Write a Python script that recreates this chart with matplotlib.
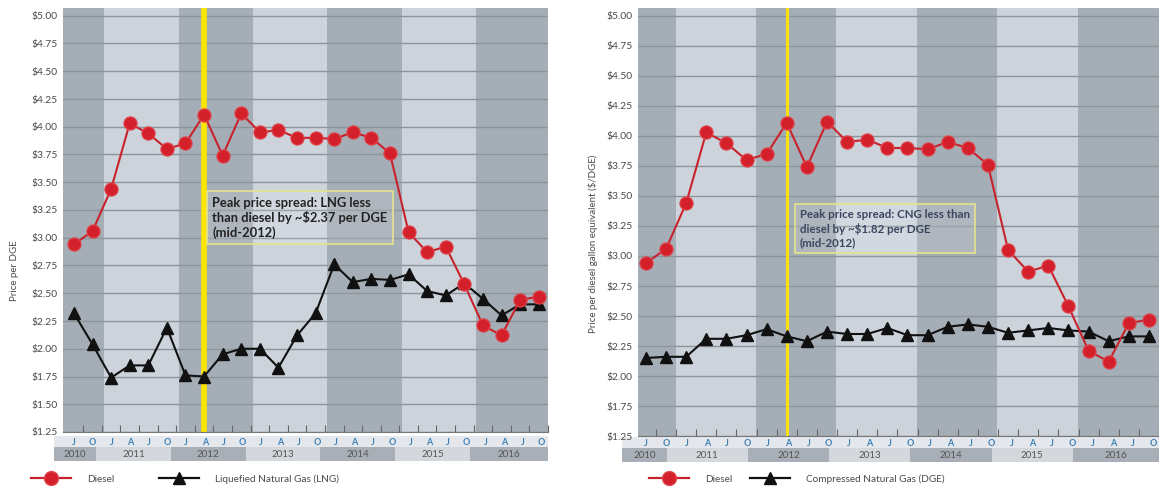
"""Diesel vs LNG / CNG retail prices per DGE, 2010-2016 (two panels)."""
import numpy as np
import matplotlib; matplotlib.use("Agg")
import matplotlib.pyplot as plt
from matplotlib.lines import Line2D

quarters = ["J", "O", "J", "A", "J", "O", "J", "A", "J", "O", "J", "A", "J",
            "O", "J", "A", "J", "O", "J", "A", "J", "O", "J", "A", "J", "O"]
years = ["2010", "2011", "2012", "2013", "2014", "2015", "2016"]
diesel = [2.94, 3.06, 3.44, 4.03, 3.94, 3.80, 3.85, 4.11, 3.74, 4.12, 3.95, 3.97, 3.90,
          3.90, 3.89, 3.95, 3.90, 3.76, 3.05, 2.87, 2.92, 2.58, 2.21, 2.12, 2.44, 2.47]
lng = [2.32, 2.04, 1.74, 1.85, 1.85, 2.19, 1.76, 1.75, 1.95, 2.00, 2.00, 1.83, 2.12,
       2.32, 2.76, 2.60, 2.63, 2.62, 2.67, 2.52, 2.48, 2.59, 2.45, 2.30, 2.40, 2.40]
cng = [2.15, 2.16, 2.16, 2.31, 2.31, 2.34, 2.39, 2.33, 2.29, 2.37, 2.35, 2.35, 2.40,
       2.34, 2.34, 2.41, 2.43, 2.41, 2.36, 2.38, 2.40, 2.38, 2.37, 2.29, 2.33, 2.33]
left_ticks = [5.00, 4.75, 4.50, 4.25, 4.00, 3.75, 3.50, 3.25, 3.00, 2.75, 2.50, 2.25, 2.00, 1.75, 1.50, 1.25]
left_labels = ["$5.00", "$4.75", "$4.50", "$4.25", "$4.00", "$3.75", "$3.50", "$3.25",
               "$3.00", "$2.75", "$2.50", "$2.25", "$2.00", "$1.75", "$1.50", "$1.25"]
# the original right panel skips $1.50 and labels that gridline $1.25
right_ticks = [5.00, 4.75, 4.50, 4.25, 4.00, 3.75, 3.50, 3.25, 3.00, 2.75, 2.50, 2.25, 2.00, 1.75, 1.50]
right_labels = ["$5.00", "$4.75", "$4.50", "$4.25", "$4.00", "$3.75", "$3.50", "$3.25",
                "$3.00", "$2.75", "$2.50", "$2.25", "$2.00", "$1.75", "$1.25"]
peak_idx = 7  # April 2012

W, H = 1159, 486
DARK, LIGHT = "#a5adb6", "#ccd3db"
RED, TXT = "#d4202b", "#4a4a4a"
plt.rcParams["font.family"] = ["Lato", "DejaVu Sans"]

fig = plt.figure(figsize=(W / 100, H / 100), dpi=100)


def rect(l, t, r, b):
    return [l / W, 1 - b / H, (r - l) / W, (b - t) / H]


def panel(g, ng, ng_name, ticks, labels, ylabel, note, note_xy, note_kw, yl_lw):
    x = np.arange(len(diesel))
    x0, dx = g["x0"], g["dx"]
    ax = fig.add_axes(rect(g["l"], g["t"], g["r"], g["b"]))
    ax.set_zorder(3)
    ax.set_xlim((g["l"] - x0) / dx, (g["r"] - x0) / dx)
    ax.set_ylim(*g["ylim"])
    lo, hi = ax.get_xlim()
    # year bands
    edges = [lo] + [g["off"] + 4 * k for k in range(len(years) - 1)] + [hi + 1]
    for k in range(len(years)):
        ax.axvspan(edges[k], edges[k + 1], color=DARK if k % 2 == 0 else LIGHT, lw=0, zorder=0)
    for t in ticks:
        ax.axhline(t, color="#8c949c", lw=1.0, zorder=1)
    ax.axvline(peak_idx, color="#ffe600", lw=yl_lw, zorder=2)
    ax.plot(x, diesel, color="#c8232c", lw=1.5, marker="o", ms=9.5, mfc=RED,
            mec="#e0454d", mew=0.8, zorder=4)
    ax.plot(x, ng, color="#111111", lw=1.5, marker="^", ms=8.5, mfc="#111111",
            mec="#111111", zorder=3)
    ax.set_yticks(ticks, labels)
    ax.set_xticks(x + 0.5, [])
    ax.tick_params(axis="y", length=0, labelsize=7.4, labelcolor=TXT, pad=4)
    ax.tick_params(axis="x", direction="in", length=5, color="#666666", width=0.8)
    for s in ["top", "right", "left"]:
        ax.spines[s].set_visible(False)
    ax.spines["bottom"].set_color("#777777")
    ax.set_ylabel(ylabel, fontsize=7, color=TXT, labelpad=g["lp"], y=g["ly"])
    ax.text(*note_xy, note, transform=ax.transData, va="top", ha="left", zorder=5,
            bbox=dict(boxstyle="square,pad=0.45", fc=(1, 1, 1, 0.12), ec="#e4e48a", lw=1.2),
            **note_kw)

    # quarter letters + year strip underneath
    sx = fig.add_axes(rect(g["sl"], g["st"], g["r"], g["sb"]))
    sx.set_zorder(1)
    sx.set_xlim((g["sl"] - x0) / dx, (g["r"] - x0) / dx)
    sx.set_ylim(0, 2)
    slo, shi = sx.get_xlim()
    sx.axhspan(1, 2, color="#e4e8ec", lw=0)
    sedges = [slo] + [g["off"] - 0.45 + 4 * k for k in range(len(years) - 1)] + [shi]
    for k, yr in enumerate(years):
        sx.axvspan(sedges[k], sedges[k + 1], ymax=0.55, color="#a9afb6" if k % 2 == 0 else "#d4d8dd", lw=0)
        sx.text((sedges[k] + sedges[k + 1]) / 2, 0.5, yr, ha="center", va="center",
                fontsize=7, color="#555555")
    for i, q in enumerate(quarters):
        sx.text(i, 1.45, q, ha="center", va="center", fontsize=6.5, color="#3d7fb5", fontweight="bold")
    sx.axis("off")

    h = [Line2D([], [], color="#c8232c", lw=1.6, marker="o", ms=10, mfc=RED, mec="#e0454d"),
         Line2D([], [], color="#111111", lw=1.6, marker="^", ms=9, mfc="#111111")]
    fig.legend(h, ["Diesel", ng_name], loc="center left", bbox_to_anchor=(g["lgx"] / W, 1 - 479 / H),
               ncol=2, frameon=False, fontsize=7.2, handlelength=g["hl"], columnspacing=g["cs"],
               labelcolor=TXT, handletextpad=1.6)


left = dict(x0=74, dx=18.7, l=63, t=8, r=548, b=432, ylim=(1.25, 1.25 + 424 / 111),
            off=1.63, sl=54, st=436, sb=461, lgx=22, lp=9, ly=0.38, hl=4, cs=4.5)
right = dict(x0=646, dx=20.3, l=638, t=8, r=1159, b=436, ylim=(1.5, 1.5 + 428 / 120),
             off=1.47, sl=622, st=437, sb=462, lgx=640, lp=6, ly=0.45, hl=4, cs=1.8)

panel(left, lng, "Liquefied Natural Gas (LNG)", left_ticks, left_labels, "Price per DGE",
      "Peak price spread: LNG less\nthan diesel by ~$2.37 per DGE\n(mid-2012)", (7.45, 3.37),
      dict(fontsize=9.3, fontweight="bold", color="#222222", linespacing=1.2), 4)
panel(right, cng, "Compressed Natural Gas (DGE)", right_ticks, right_labels,
      "Price per diesel gallon equivalent ($/DGE)",
      "Peak price spread: CNG less than\ndiesel by ~$1.82 per DGE\n(mid-2012)", (7.65, 3.39),
      dict(fontsize=8.3, fontweight="bold", color="#3a4660", linespacing=1.25), 2)

fig.savefig("out.png", dpi=100)
